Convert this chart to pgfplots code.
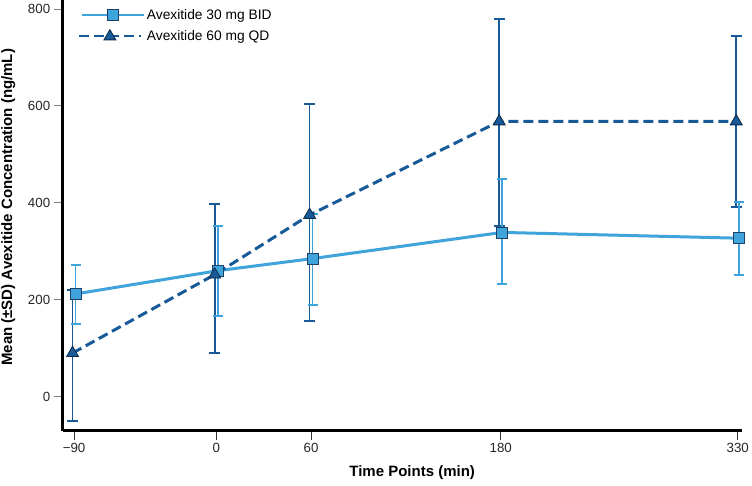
\documentclass[border=0pt]{standalone}
\usepackage{fontspec}
\setmainfont{Liberation Sans}
\usepackage{pgfplots}
\pgfplotsset{compat=1.18}
\definecolor{lightb}{HTML}{40A4DC}
\definecolor{darkb}{HTML}{185A98}
\definecolor{sqedge}{HTML}{1E3F66}
\definecolor{triedge}{HTML}{0B2A4A}
\begin{document}
\begin{tikzpicture}
\useasboundingbox (-62.7pt,-54.3pt) rectangle (689.3pt,430.7pt);
\begin{axis}[
  scale only axis,
  width=679pt, height=430.7pt,
  xmin=-97.2, xmax=332.5,
  ymin=-70.2, ymax=818.6,
  axis x line=bottom, axis y line=left,
  axis line style={-, line width=3pt, black},
  xtick={-90,0,60,180,330},
  xticklabels={−90,0,60,180,330},
  ytick={0,200,400,600,800},
  tick align=outside,
  major tick length=9pt,
  x tick style={draw=black!80, line width=1pt},
  y tick style={draw=gray, line width=1pt},
  /pgf/number format/assume math mode=true,
  tick label style={font=\fontsize{13.3}{15}\selectfont, text=black!85},
  xlabel={Time Points (min)},
  ylabel={Mean (±SD) Avexitide Concentration (ng/mL)},
  label style={font=\fontsize{15}{17}\selectfont\bfseries},
  xlabel style={at={(rel axis cs:0.5,0)}, anchor=center, yshift=-42pt, xshift=10pt},
  ylabel style={at={(rel axis cs:0,0.5)}, anchor=center, yshift=54.5pt, xshift=8pt},
  legend style={draw=none, fill=none, at={(rel axis cs:0,1)}, anchor=north west,
    xshift=12pt, yshift=-5pt, font=\fontsize{13.8}{16}\selectfont, row sep=6pt},
  legend cell align=left,
  legend image code/.code={\draw[mark repeat=2, mark phase=2, #1, line width=2pt] plot coordinates {(0pt,0pt) (31pt,0pt) (62pt,0pt)};},
  clip=false,
]
% dark error bars
\addplot[forget plot, draw=none, mark=none, xshift=-1.5pt,
  error bars/.cd, y dir=both, y explicit,
  error bar style={line width=1.7pt, darkb},
  error mark options={rotate=90, mark size=5.5pt, line width=2pt, darkb, solid}]
  table[x=x, y=y, y error plus=ep, y error minus=em] {
x y ep em
-90 90 130 140
0 252 146 162
60 375 229 218
180 568 212 215
330 568 177 176
};
% light error bars
\addplot[forget plot, draw=none, mark=none, xshift=1.5pt,
  error bars/.cd, y dir=both, y explicit,
  error bar style={line width=1.6pt, lightb},
  error mark options={rotate=90, mark size=5pt, line width=2pt, lightb, solid}]
  table[x=x, y=y, y error plus=ep, y error minus=em] {
x y ep em
-90 212 60 61
0 260 93 93
60 285 93 95
180 339 111 106
330 327 75 75
};
\addplot[lightb, line width=3pt, mark=square*, mark size=5.5pt,
  mark options={solid, fill=lightb, draw=sqedge, line width=0.8pt}, xshift=1.5pt]
  table[x=x, y=y] {
x y
-90 212
0 260
60 285
180 339
330 327
};
\addlegendentry{Avexitide 30 mg BID}
\addplot[darkb, line width=3pt, dash pattern=on 10pt off 5pt, mark=triangle*, mark size=6.9pt,
  mark options={solid, fill=darkb, draw=triedge, line width=0.8pt}, xshift=-1.5pt]
  table[x=x, y=y] {
x y
-90 90
0 252
60 375
180 568
330 568
};
\addlegendentry{Avexitide 60 mg QD}
\end{axis}
\end{tikzpicture}
\end{document}
